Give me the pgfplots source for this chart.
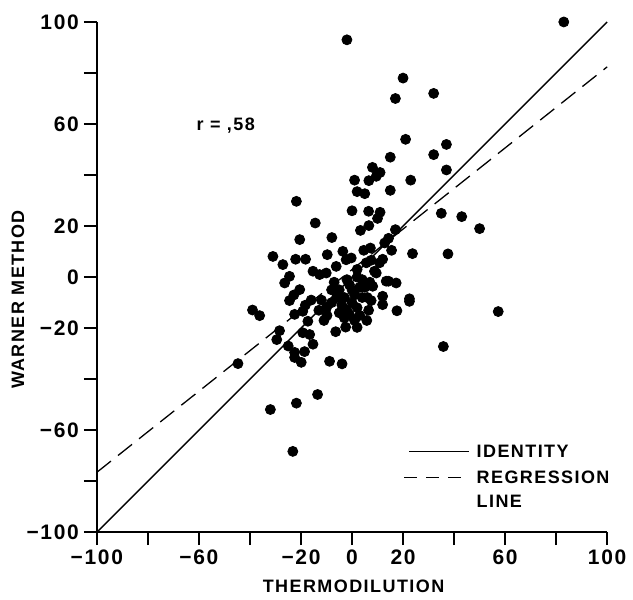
\documentclass[border=0pt]{standalone}
\usepackage{fontspec}
\setmainfont{Liberation Sans}[LetterSpace=8]
\usepackage{pgfplots}
\pgfplotsset{compat=1.18}

\begin{document}
\begin{tikzpicture}
\path (-48.5pt,-30.5pt) rectangle (268pt,266.5pt);
\begin{axis}[
    at={(0,0)}, anchor=south west,
    width=255.5pt, height=255.5pt,
    scale only axis,
    xmin=-100, xmax=100,
    ymin=-100, ymax=100,
    axis x line=bottom, axis y line=left,
    axis line style={-, line width=1pt},
    tick style={line width=1pt, black},
    tick align=outside,
    major tick length=6.5pt,
    xtick={-100,-80,...,100},
    ytick={-100,-80,...,100},
    xticklabels={−100,,−60,,−20,0,20,,60,,100},
    yticklabels={−100,,−60,,−20,0,20,,60,,100},
    ticklabel style={font=\fontsize{10.5}{11}\selectfont\bfseries},
    xticklabel style={yshift=1pt},
    yticklabel style={xshift=1pt},
    xlabel={THERMODILUTION},
    ylabel={WARNER METHOD},
    label style={font=\fontsize{9}{10}\selectfont\bfseries},
    xlabel style={at={(axis description cs:0.503,-0.1057)}, anchor=center},
    ylabel style={at={(axis description cs:-0.1546,0.456)}, anchor=center},
    clip=false,
]
% identity
\addplot[black, line width=0.65pt] coordinates {(-100,-100) (100,100)};
% regression line
\addplot[black, line width=0.65pt, dash pattern=on 9pt off 4.5pt] coordinates {(-100,-76.5) (100,82.4)};
% data
\addplot[only marks, mark=*, mark size=2.5pt, black] coordinates {
(83,100) (-2,93) (20,78) (17,70) (32,72) (21,54) (37,52) (15,47) (32,48)
(8,43) (11,41) (9.5,39.5) (6.6,37.8) (1,38) (37,42) (23,38) (2,33.5) (5,32.7)
(15,34) (0,26) (6.5,25.8) (11,25.4) (10,23) (6.6,20.2) (3.3,18.3) (17,18.6)
(35,25) (43,23.7) (50,19) (14.3,15.2) (12.8,13.4) (15.5,10.5) (23.7,9.2)
(37.6,9.1) (-14.4,21.2) (-7.9,15.5) (-21.8,29.7) (-20.5,14.7) (-3.6,10.1)
(-9.7,8.8) (4.6,10.5) (7.2,11.4) (-0.3,7.5) (10.8,5.6) (7.5,6.6) (-18.2,7)
(-6.2,4.2) (-15.3,2.3) (-10.1,1.6) (-12.7,1.0) (9.5,1.6) (14.3,-1.6)
(17.3,-2.3) (8.1,-3.6) (22.5,-8.5) (-27.1,4.9) (-31,8.1) (-22.1,7)
(-24.5,0.3) (-26.4,-2.3) (-2.3,6.8) (5.6,5.6) (12,7) (2,3)
(-20.5,-4.9) (-22.8,-7) (-24.5,-9.2) (-16,-9) (-18.3,-11) (-19.3,-13.4)
(-22.5,-14.6) (-39,-12.9) (-36.2,-15.1) (-9.8,-15) (-6.4,-21.4) (-2.5,-19.6)
(2,-19.7) (5.8,-17) (6.5,-13) (12,-10.8) (12,-7.5) (13.4,-1.6) (22.5,-9.5)
(17.6,-13.2) (8.8,2.3) (-28.4,-21) (-29.5,-24.5) (-25,-27) (-22.5,-29.5)
(-22.5,-31.5) (-19.9,-33.4) (-18.6,-29.2) (-15.3,-26.3) (-16.6,-22.5)
(-19.3,-21.8) (-17.3,-17.3) (-8.8,-33) (-3.9,-34) (-44.7,-33.9) (-32,-51.9)
(-21.8,-49.4) (-13.5,-46) (-23.2,-68.3) (57.3,-13.5) (35.8,-27.2) (7.5,-9.2)
(-1,-14.7)
(-7,-2) (-5,-5) (-3,-8) (-1,-3) (1,-7) (3,-4) (-4,-11) (-2,-13) (0,-10)
(2,-12) (4,-8) (5,-4) (-6,-8) (-8,-5) (3,-15) (-3,-16) (1,-17) (6,-8)
(0,-5) (-5,-14) (2,0) (-2,-1) (4,-1) (7,-2)
(-12,-9) (-10,-12) (-8,-10) (-11,-17) (-13,-13)
};
\node[font=\fontsize{9}{10}\selectfont\bfseries] at (axis cs:-49.5,59.3) {r = ,58};
% legend
\draw[black, line width=0.65pt] (axis cs:22.5,-68.3) -- (axis cs:46,-68.3);
\draw[black, line width=0.65pt, dash pattern=on 6.5pt off 4.5pt] (axis cs:20.5,-78.5) -- (axis cs:46,-78.5);
\node[anchor=west, inner sep=0pt, font=\fontsize{9}{10}\selectfont\bfseries] at (axis cs:48.7,-68.3) {IDENTITY};
\node[anchor=north west, inner sep=0pt, align=left, font=\fontsize{9}{12}\selectfont\bfseries] at (axis cs:48.7,-75.8) {REGRESSION\\LINE};
\end{axis}
\end{tikzpicture}
\end{document}
